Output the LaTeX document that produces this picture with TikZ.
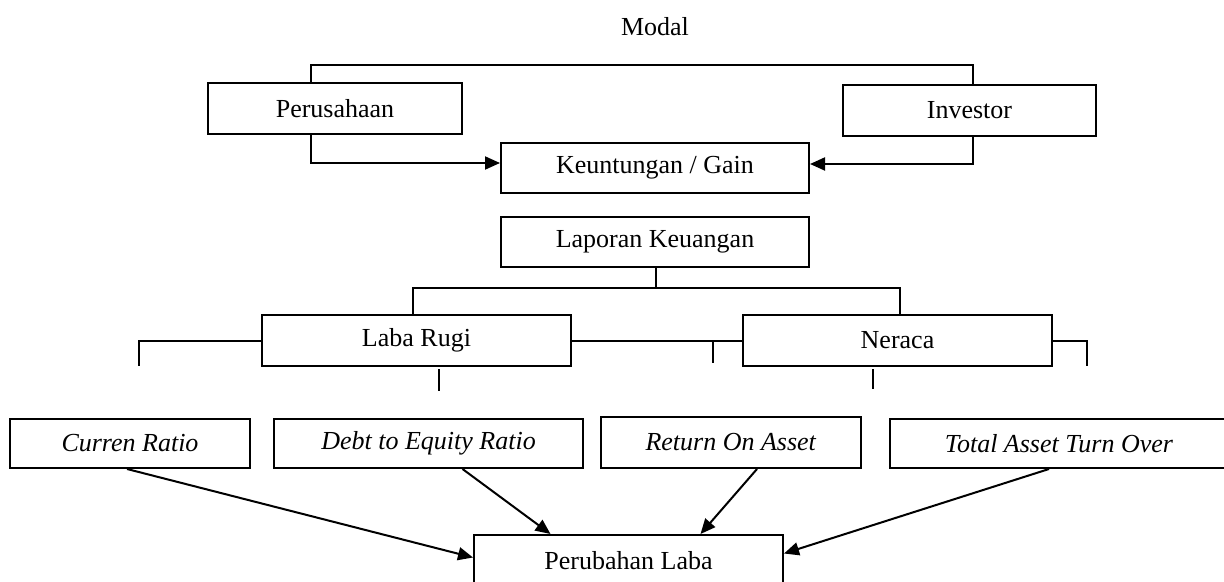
\documentclass[tikz,border=0pt]{standalone}
\usepackage{fontspec}
\setmainfont{Liberation Serif}
\usetikzlibrary{arrows.meta}
\tikzset{
	kotak/.style={draw, line width=1pt, inner sep=0pt, minimum height=25.5pt, font=\fontsize{13}{15}\selectfont},
	garis/.style={line width=1pt},
	panah/.style={line width=1pt, -{Triangle[length=7.5pt,width=6.5pt]}}
}

\begin{document}
\begin{tikzpicture}[x=0.5pt, y=-0.5pt]
		%%%%% START %%%%%
		\useasboundingbox (0, 0) rectangle (1224, 582);
		
		\node[font=\fontsize{13}{15}\selectfont] (modal) at (655, 27) {Modal};
		
		\node[kotak, minimum width=127pt] (perusahaan) at (335, 108.5) {Perusahaan};
		\node[kotak, minimum width=126.5pt] (investor) at (969.5, 110.5) {Investor};
		\node[kotak, minimum width=154pt, minimum height=25pt] (keuntungan) at (655, 168) {Keuntungan / Gain};
		
		\coordinate (atas) at (655, 65);
		\draw[garis] ([xshift=-12pt]perusahaan.north) |- (atas) -| ([xshift=1.5pt]investor.north);
		\draw[panah] ([xshift=-12pt]perusahaan.south) |- ([yshift=2.5pt]keuntungan.west);
		\draw[panah] ([xshift=1.5pt]investor.south) |- ([yshift=2pt]keuntungan.east);
		
		\node[kotak, minimum width=154pt, minimum height=25pt] (laporan) at (655, 242) {Laporan Keuangan};
		\node[kotak, minimum width=154.5pt] (labarugi) at (416.5, 340.5) {Laba Rugi};
		\node[kotak, minimum width=154.5pt] (neraca) at (897.5, 340.5) {Neraca};
		
		\coordinate (cabang) at (656, 288);
		\draw[garis] ([xshift=0.5pt]laporan.south) -- (cabang);
		\draw[garis] ([xshift=-2pt]labarugi.north) |- (cabang) -| ([xshift=1pt]neraca.north);
		
		\coordinate (kiri) at (139, 366);
		\coordinate (kanan) at (1087, 366);
		\coordinate (tengah) at (713, 363);
		\draw[garis] (labarugi.west) -| (kiri);
		\draw[garis] (labarugi.east) -- (neraca.west);
		\draw[garis] (tengah |- neraca.west) -- (tengah);
		\draw[garis] (neraca.east) -| (kanan);
		
		\coordinate (lr1) at (439, 369);
		\coordinate (lr2) at (439, 391);
		\coordinate (nr1) at (873, 369);
		\coordinate (nr2) at (873, 389);
		\draw[garis] (lr1) -- (lr2);
		\draw[garis] (nr1) -- (nr2);
		
		\node[kotak, minimum width=120pt, minimum height=24.5pt] (curren) at (130, 443.5) {\textit{Curren Ratio}};
		\node[kotak, minimum width=154.5pt, minimum height=24.5pt] (debt) at (428.5, 443.5) {\textit{Debt to Equity Ratio}};
		\node[kotak, minimum width=130pt] (roa) at (731, 442.5) {\textit{Return On Asset}};
		\node[kotak, minimum width=169pt, minimum height=24.5pt] (tato) at (1059, 443.5) {\textit{Total Asset Turn Over}};
		
		\node[kotak, minimum width=154.5pt] (perubahan) at (628.5, 560.5) {Perubahan Laba};
		
		\draw[panah] ([xshift=-1.5pt]curren.south) -- ([yshift=1.5pt]perubahan.west);
		\draw[panah] ([xshift=17pt]debt.south) -- ([xshift=-39pt]perubahan.north);
		\draw[panah] ([xshift=13pt]roa.south) -- ([xshift=36pt]perubahan.north);
		\draw[panah] ([xshift=-5pt]tato.south) -- ([yshift=3.5pt]perubahan.east);
		
		%%%%% END %%%%%
	\end{tikzpicture}
\end{document}
